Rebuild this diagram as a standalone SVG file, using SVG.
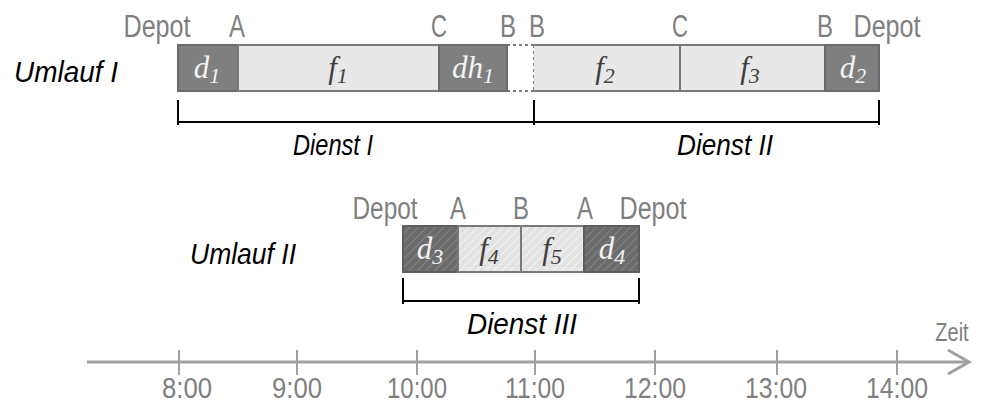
<svg xmlns="http://www.w3.org/2000/svg" width="982" height="403" viewBox="0 0 982 403">
  <style>
    .lbl { font-family: "Liberation Sans", Arial, sans-serif; font-size: 31px; fill: #7f7f7f; text-anchor: middle; }
    .axl { font-size: 29px; }
    .name { font-family: "Liberation Sans", Arial, sans-serif; font-size: 30px; font-style: italic; fill: #000; text-anchor: middle; }
    .math { font-family: "Liberation Serif", "Times New Roman", serif; font-size: 31px; font-style: italic; text-anchor: middle; }
    .sub { font-size: 22px; }
    .onDark { fill: #f4f4f4; }
    .onLight { fill: #404040; }
    .dark { fill: #7f7f7f; stroke: #6a6a6a; stroke-width: 2; }
    .light { fill: #e8e8e8; stroke: #7a7a7a; stroke-width: 2; }
    .darkH { fill: url(#hatchDark); stroke: #5e5e5e; stroke-width: 2; }
    .lightH { fill: url(#hatchLight); stroke: #7a7a7a; stroke-width: 2; }
    .bracket { fill: none; stroke: #000; stroke-width: 2; }
    .axis { fill: none; stroke: #a0a0a0; stroke-width: 3; }
    .tick { stroke: #a0a0a0; stroke-width: 2; }
  </style>
  <defs>
    <pattern id="hatchDark" patternUnits="userSpaceOnUse" width="6" height="6" patternTransform="rotate(45)">
      <rect width="6" height="6" fill="#6b6b6b"/>
      <line x1="0" y1="0" x2="0" y2="6" stroke="#858585" stroke-width="2"/>
    </pattern>
    <pattern id="hatchLight" patternUnits="userSpaceOnUse" width="6" height="6" patternTransform="rotate(45)">
      <rect width="6" height="6" fill="#e2e2e2"/>
      <line x1="0" y1="0" x2="0" y2="6" stroke="#f4f4f4" stroke-width="2"/>
    </pattern>
  </defs>

  <!-- row labels -->
  <text class="name" x="66" y="82" textLength="104" lengthAdjust="spacingAndGlyphs">Umlauf I</text>
  <text class="name" x="243" y="264" textLength="106" lengthAdjust="spacingAndGlyphs">Umlauf II</text>

  <!-- Umlauf I -->
  <g id="umlauf1">
    <g id="d1">
      <rect class="dark" x="178" y="45" width="60" height="46"/>
      <text class="math onDark" x="207" y="78">d<tspan class="sub" dy="5">1</tspan></text>
    </g>
    <g id="f1">
      <rect class="light" x="238" y="45" width="201" height="46"/>
      <text class="math onLight" x="338" y="78">f<tspan class="sub" dy="5">1</tspan></text>
    </g>
    <g id="dh1">
      <rect class="dark" x="439" y="45" width="68" height="46"/>
      <text class="math onDark" x="473" y="78">dh<tspan class="sub" dy="5">1</tspan></text>
    </g>
    <g id="gap">
      <path d="M507 45 H534 M507 91 H534 M534 45 V91" fill="none" stroke="#7a7a7a" stroke-width="2" stroke-dasharray="3 3"/>
    </g>
    <g id="f2">
      <rect x="534" y="45" width="146" height="46" fill="#e8e8e8"/>
      <path d="M534 45 H680 V91 H534" fill="none" stroke="#7a7a7a" stroke-width="2"/>
      <text class="math onLight" x="605" y="78">f<tspan class="sub" dy="5">2</tspan></text>
    </g>
    <g id="f3">
      <rect class="light" x="680" y="45" width="145" height="46"/>
      <text class="math onLight" x="750" y="78">f<tspan class="sub" dy="5">3</tspan></text>
    </g>
    <g id="d2">
      <rect class="dark" x="825" y="45" width="54" height="46"/>
      <text class="math onDark" x="853" y="78">d<tspan class="sub" dy="5">2</tspan></text>
    </g>
  </g>

  <!-- place labels, Umlauf I -->
  <g id="places1">
    <text class="lbl" x="157" y="37" textLength="67" lengthAdjust="spacingAndGlyphs">Depot</text>
    <text class="lbl" x="237" y="37" textLength="16" lengthAdjust="spacingAndGlyphs">A</text>
    <text class="lbl" x="439" y="37" textLength="16" lengthAdjust="spacingAndGlyphs">C</text>
    <text class="lbl" x="508" y="37" textLength="16" lengthAdjust="spacingAndGlyphs">B</text>
    <text class="lbl" x="537" y="37" textLength="16" lengthAdjust="spacingAndGlyphs">B</text>
    <text class="lbl" x="680" y="37" textLength="16" lengthAdjust="spacingAndGlyphs">C</text>
    <text class="lbl" x="825" y="37" textLength="16" lengthAdjust="spacingAndGlyphs">B</text>
    <text class="lbl" x="887" y="37" textLength="67" lengthAdjust="spacingAndGlyphs">Depot</text>
  </g>

  <!-- Umlauf II -->
  <g id="umlauf2">
    <g id="d3">
      <rect class="darkH" x="403" y="226" width="55" height="46"/>
      <text class="math onDark" x="430" y="259">d<tspan class="sub" dy="5">3</tspan></text>
    </g>
    <g id="f4">
      <rect class="lightH" x="458" y="226" width="63" height="46"/>
      <text class="math onLight" x="489" y="259">f<tspan class="sub" dy="5">4</tspan></text>
    </g>
    <g id="f5">
      <rect class="lightH" x="521" y="226" width="63" height="46"/>
      <text class="math onLight" x="552" y="259">f<tspan class="sub" dy="5">5</tspan></text>
    </g>
    <g id="d4">
      <rect class="darkH" x="584" y="226" width="55" height="46"/>
      <text class="math onDark" x="612" y="259">d<tspan class="sub" dy="5">4</tspan></text>
    </g>
  </g>

  <!-- place labels, Umlauf II -->
  <g id="places2">
    <text class="lbl" x="385" y="219" textLength="65" lengthAdjust="spacingAndGlyphs">Depot</text>
    <text class="lbl" x="458" y="219" textLength="16" lengthAdjust="spacingAndGlyphs">A</text>
    <text class="lbl" x="521" y="219" textLength="16" lengthAdjust="spacingAndGlyphs">B</text>
    <text class="lbl" x="585" y="219" textLength="16" lengthAdjust="spacingAndGlyphs">A</text>
    <text class="lbl" x="653" y="219" textLength="67" lengthAdjust="spacingAndGlyphs">Depot</text>
  </g>

  <!-- duty brackets -->
  <g id="connectors">
    <path class="bracket" d="M178 100 V125 M178 122 H534 M534 100 V125"/>
    <path class="bracket" d="M534 122 H879 M879 100 V125"/>
    <path class="bracket" d="M403 278 V304 M403 301 H639 M639 278 V304"/>
  </g>
  <g id="dienst1"><text class="name" x="333" y="155" textLength="80" lengthAdjust="spacingAndGlyphs">Dienst I</text></g>
  <g id="dienst2"><text class="name" x="725" y="155" textLength="96" lengthAdjust="spacingAndGlyphs">Dienst II</text></g>
  <g id="dienst3"><text class="name" x="522" y="334" textLength="110" lengthAdjust="spacingAndGlyphs">Dienst III</text></g>

  <!-- time axis -->
  <g id="axis">
    <path class="axis" d="M87 362 H969"/>
    <path class="axis" d="M948 350 L969 362 L948 374"/>
    <line class="tick" x1="179" y1="350" x2="179" y2="375"/>
    <line class="tick" x1="297" y1="350" x2="297" y2="375"/>
    <line class="tick" x1="417" y1="350" x2="417" y2="375"/>
    <line class="tick" x1="535" y1="350" x2="535" y2="375"/>
    <line class="tick" x1="655" y1="350" x2="655" y2="375"/>
    <line class="tick" x1="777" y1="350" x2="777" y2="375"/>
    <line class="tick" x1="897" y1="350" x2="897" y2="375"/>
    <text class="lbl axl" x="187" y="398" textLength="50" lengthAdjust="spacingAndGlyphs">8:00</text>
    <text class="lbl axl" x="297" y="398" textLength="50" lengthAdjust="spacingAndGlyphs">9:00</text>
    <text class="lbl axl" x="417" y="398" textLength="60" lengthAdjust="spacingAndGlyphs">10:00</text>
    <text class="lbl axl" x="535" y="398" textLength="60" lengthAdjust="spacingAndGlyphs">11:00</text>
    <text class="lbl axl" x="655" y="398" textLength="62" lengthAdjust="spacingAndGlyphs">12:00</text>
    <text class="lbl axl" x="776" y="398" textLength="62" lengthAdjust="spacingAndGlyphs">13:00</text>
    <text class="lbl axl" x="897" y="398" textLength="62" lengthAdjust="spacingAndGlyphs">14:00</text>
    <text class="lbl" transform="translate(952 341) scale(0.8 1)" style="font-size:25px">Zeit</text>
  </g>
</svg>
